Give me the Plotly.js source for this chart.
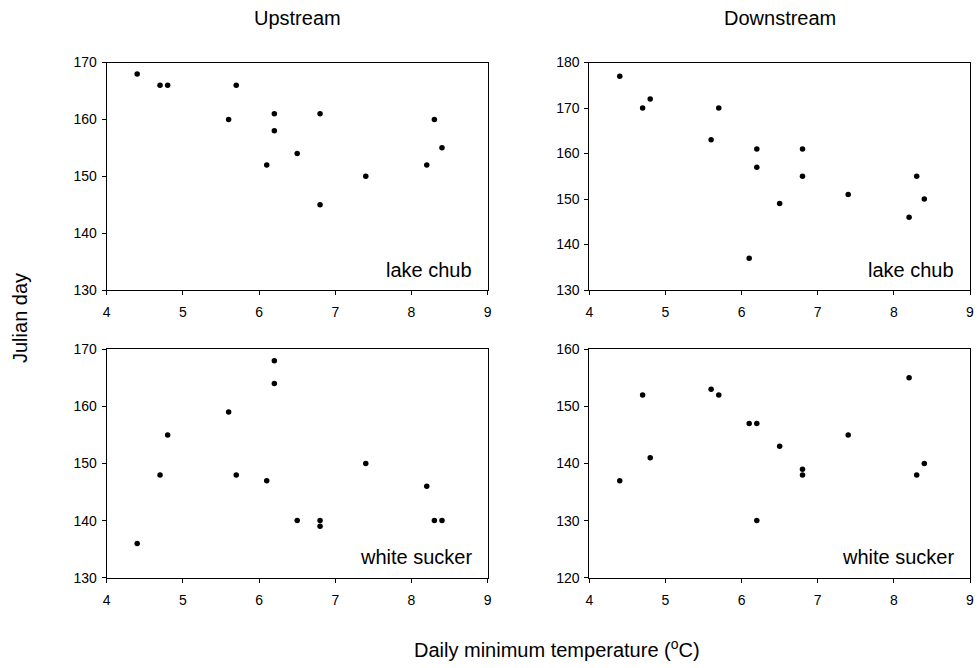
<!DOCTYPE html>
<html>
<head>
<meta charset="utf-8">
<script src="https://cdn.plot.ly/plotly-3.0.1.min.js"></script>
<style>html,body{margin:0;padding:0;background:#fff;}#chart{width:977px;height:668px;}</style>
</head>
<body>
<div id="chart"></div>
<script>
// Upstream, lake chub
const upChubX = [4.4, 4.7, 4.8, 5.7, 5.6, 6.2, 6.2, 6.1, 6.5, 6.8, 6.8, 7.4, 8.2, 8.3, 8.4];
const upChubY = [168, 166, 166, 166, 160, 161, 158, 152, 154, 161, 145, 150, 152, 160, 155];
// Downstream, lake chub
const downChubX = [4.4, 4.7, 4.8, 5.7, 5.6, 6.2, 6.2, 6.1, 6.5, 6.8, 6.8, 7.4, 8.2, 8.3, 8.4];
const downChubY = [177, 170, 172, 170, 163, 161, 157, 137, 149, 161, 155, 151, 146, 155, 150];
// Upstream, white sucker
const upSuckerX = [4.4, 4.7, 4.8, 5.6, 5.7, 6.1, 6.2, 6.2, 6.5, 6.8, 6.8, 7.4, 8.2, 8.3, 8.4];
const upSuckerY = [136, 148, 155, 159, 148, 147, 168, 164, 140, 140, 139, 150, 146, 140, 140];
// Downstream, white sucker
const downSuckerX = [4.4, 4.7, 4.8, 5.6, 5.7, 6.1, 6.2, 6.2, 6.5, 6.8, 6.8, 7.4, 8.2, 8.3, 8.4];
const downSuckerY = [137, 152, 141, 153, 152, 147, 147, 130, 143, 139, 138, 145, 155, 138, 140];

const xTicks = [4, 5, 6, 7, 8, 9];
const panelTitles = ["Upstream", "Downstream"];
const speciesLabels = ["lake chub", "white sucker"];
const yTitle = "Julian day";
const xTitle = "Daily minimum temperature (<sup>o</sup>C)";

const FONT = "Liberation Sans, Arial, sans-serif";
const marker = {color: "#000", size: 5.5};

function tr(x, y, xa, ya) {
  return {x: x, y: y, xaxis: xa, yaxis: ya, type: "scatter", mode: "markers", marker: marker, hoverinfo: "x+y", showlegend: false};
}
const data = [
  tr(upChubX, upChubY, "x", "y"),
  tr(downChubX, downChubY, "x2", "y2"),
  tr(upSuckerX, upSuckerY, "x3", "y3"),
  tr(downSuckerX, downSuckerY, "x4", "y4")
];

const W = 977, H = 668;
const leftDom = [106.7 / W, 487.7 / W];
const rightDom = [589.3 / W, 970 / W];
const topDom = [1 - 290 / H, 1 - 62.5 / H];
const botDom = [1 - 577.7 / H, 1 - 349.3 / H];

function xax(dom, anchor) {
  return {domain: dom, anchor: anchor, range: [4, 9], tickvals: xTicks, ticks: "outside", ticklen: 4, tickwidth: 1, tickcolor: "#000",
    ticklabelstandoff: 5,
    showline: true, linecolor: "#000", linewidth: 1, mirror: true, showgrid: false, zeroline: false,
    tickfont: {family: FONT, size: 14, color: "#000"}, fixedrange: true};
}
function yax(dom, anchor, range, dtick) {
  return {domain: dom, anchor: anchor, range: range, dtick: dtick, tick0: range[0], ticks: "outside", ticklen: 4, tickwidth: 1, tickcolor: "#000",
    ticklabelstandoff: 2,
    showline: true, linecolor: "#000", linewidth: 1, mirror: true, showgrid: false, zeroline: false,
    tickfont: {family: FONT, size: 14, color: "#000"}, fixedrange: true};
}

const ann = [];
const c = {xanchor: "center", yanchor: "middle", xref: "paper", yref: "paper", showarrow: false};
ann.push(Object.assign({text: panelTitles[0], x: (leftDom[0] + leftDom[1]) / 2, y: 1 - 18 / H, font: {family: FONT, size: 20, color: "#000"}}, c));
ann.push(Object.assign({text: panelTitles[1], x: (rightDom[0] + rightDom[1]) / 2, y: 1 - 18 / H, font: {family: FONT, size: 20, color: "#000"}}, c));
ann.push(Object.assign({text: yTitle, x: 20 / W, y: 1 - 318 / H, textangle: -90, font: {family: FONT, size: 20, color: "#000"}}, c));
ann.push(Object.assign({text: xTitle, x: 557 / W, y: 1 - 648 / H, font: {family: FONT, size: 20, color: "#000"}}, c));
const lbl = [["x domain", "y domain", speciesLabels[0]], ["x2 domain", "y2 domain", speciesLabels[0]], ["x3 domain", "y3 domain", speciesLabels[1]], ["x4 domain", "y4 domain", speciesLabels[1]]];
lbl.forEach(function (l) {
  ann.push({text: l[2], xref: l[0], yref: l[1], x: 0.963, y: 0.09, xanchor: "right", yanchor: "middle", showarrow: false, font: {family: FONT, size: 20, color: "#000"}});
});

const layout = {
  width: W, height: H,
  margin: {l: 0, r: 0, t: 0, b: 0},
  paper_bgcolor: "#fff", plot_bgcolor: "#fff",
  font: {family: FONT, color: "#000"},
  showlegend: false,
  xaxis: xax(leftDom, "y"),
  yaxis: yax(topDom, "x", [130, 170], 10),
  xaxis2: xax(rightDom, "y2"),
  yaxis2: yax(topDom, "x2", [130, 180], 10),
  xaxis3: xax(leftDom, "y3"),
  yaxis3: yax(botDom, "x3", [130, 170], 10),
  xaxis4: xax(rightDom, "y4"),
  yaxis4: yax(botDom, "x4", [120, 160], 10),
  annotations: ann
};

Plotly.newPlot("chart", data, layout, {displayModeBar: false, staticPlot: true});
</script>
</body>
</html>
